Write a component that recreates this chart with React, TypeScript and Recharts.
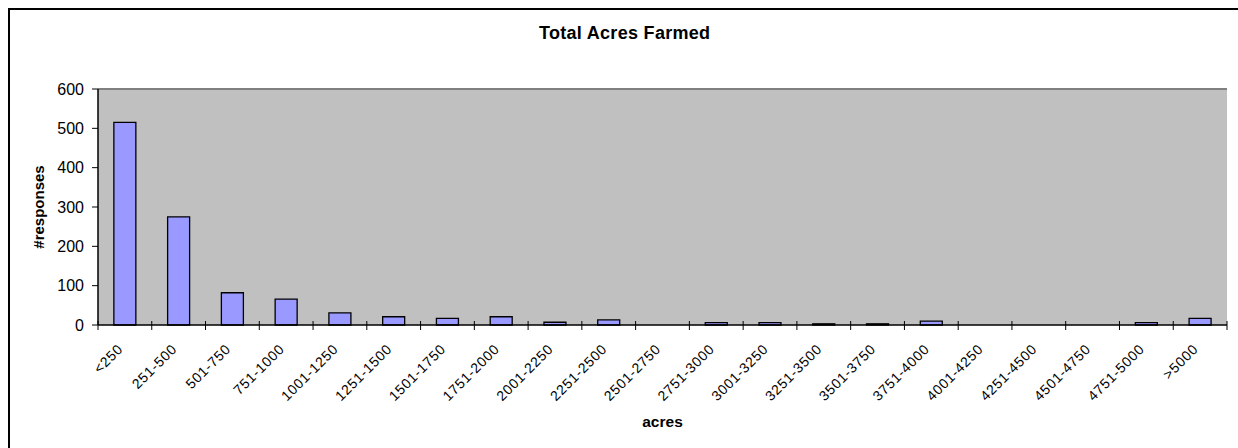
import React from "react";
import { BarChart, Bar, XAxis, YAxis, CartesianGrid, ReferenceLine } from "recharts";

const categories = [
  "<250", "251-500", "501-750", "751-1000", "1001-1250", "1251-1500", "1501-1750",
  "1751-2000", "2001-2250", "2251-2500", "2501-2750", "2751-3000", "3001-3250",
  "3251-3500", "3501-3750", "3751-4000", "4001-4250", "4251-4500", "4501-4750",
  "4751-5000", ">5000",
];
const responses = [515, 275, 82, 66, 31, 21, 17, 21, 7, 13, 0, 6, 6, 3, 3, 10, 0, 0, 0, 6, 17];
const yTicks = [0, 100, 200, 300, 400, 500, 600];

const data = categories.map((c, i) => ({ range: c, count: responses[i] }));

const FONT = '"Liberation Sans", Arial, sans-serif';
const HALF_BAND = 1129 / 21 / 2;

const XTick = (props: any) => {
  const { x, y, payload, index } = props;
  const ax = x - 1;
  const ay = y + 25;
  return (
    <g>
      <line x1={x - HALF_BAND} y1={y - 4} x2={x - HALF_BAND} y2={y + 5} stroke="#000" strokeWidth={1} />
      {index === categories.length - 1 ? (
        <line x1={x + HALF_BAND} y1={y - 4} x2={x + HALF_BAND} y2={y + 5} stroke="#000" strokeWidth={1} />
      ) : null}
      <text
        x={ax}
        y={ay}
        textAnchor="end"
        transform={`rotate(-45, ${ax}, ${ay})`}
        fontFamily={FONT}
        fontSize={14}
        letterSpacing={0.7}
        fill="#000"
      >
        {payload.value}
      </text>
    </g>
  );
};

export default function App() {
  return (
    <>
      <style>{"html,body{overflow:hidden;}"}</style>
      <div
        style={{
          position: "fixed",
          left: 8,
          top: 8,
          width: 1240,
          height: 450,
          borderTop: "2px solid #000",
          borderLeft: "2px solid #000",
          overflow: "hidden",
          background: "#fff",
        }}
      >
        <div
          style={{
            position: "absolute",
            left: 614.7,
            top: 22.7 - 11,
            transform: "translateX(-50%)",
            fontFamily: FONT,
            fontWeight: "bold",
            fontSize: 18,
            letterSpacing: 0.3,
            whiteSpace: "nowrap",
            lineHeight: "22px",
          }}
        >
          Total Acres Farmed
        </div>
        <BarChart
          width={1228}
          height={438}
          data={data}
          margin={{ top: 79, right: 11, left: 0, bottom: 0 }}
          barCategoryGap="29.5%"
        >
          <CartesianGrid horizontal={false} vertical={false} fill="#C0C0C0" />
          <ReferenceLine y={600} stroke="#808080" strokeWidth={2} />
          <XAxis
            dataKey="range"
            interval={0}
            height={123}
            tickLine={false}
            tickSize={0}
            tickMargin={0}
            axisLine={{ stroke: "#000", strokeWidth: 1.5 }}
            tick={<XTick />}
            label={(p: any) => {
              const vb = p.viewBox;
              return (
                <text x={vb.x + vb.width / 2} y={411.7} textAnchor="middle" dominantBaseline="central" fontFamily={FONT} fontWeight="bold" fontSize={15.5} fill="#000">
                  acres
                </text>
              );
            }}
          />
          <YAxis
            width={88}
            domain={[0, 600]}
            ticks={yTicks}
            interval={0}
            tickSize={6}
            tickMargin={8}
            tickLine={{ stroke: "#000" }}
            axisLine={{ stroke: "#000", strokeWidth: 1.5 }}
            tick={{ fontFamily: FONT, fontSize: 16, fill: "#000" }}
            label={(p: any) => {
              const vb = p.viewBox;
              const cx = 28;
              const cy = vb.y + vb.height / 2;
              return (
                <text x={cx} y={cy} textAnchor="middle" dominantBaseline="central" transform={`rotate(-90, ${cx}, ${cy})`} fontFamily={FONT} fontWeight="bold" fontSize={15} fill="#000">
                  #responses
                </text>
              );
            }}
          />
          <YAxis
            yAxisId="right"
            orientation="right"
            width={0}
            domain={[0, 600]}
            tick={false}
            tickLine={false}
            axisLine={{ stroke: "#808080", strokeWidth: 2 }}
          />
          <Bar dataKey="count" fill="#9999FF" stroke="#000" strokeWidth={1.3} isAnimationActive={false} />
        </BarChart>
      </div>
    </>
  );
}
